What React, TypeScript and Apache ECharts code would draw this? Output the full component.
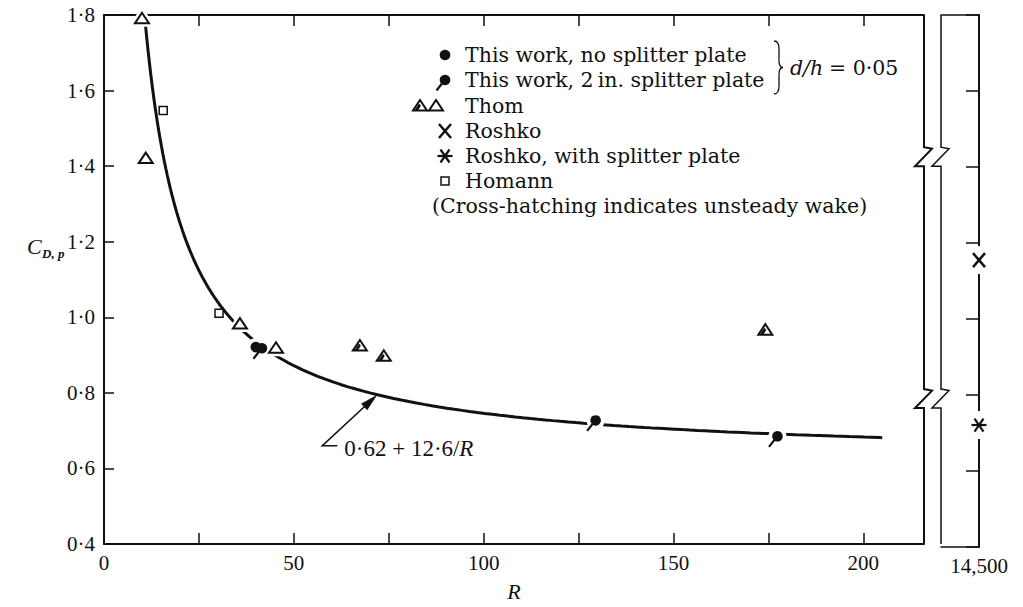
import React, { useEffect, useRef } from "react";
import * as echarts from "echarts";

const SERIF = "Liberation Serif";
const WIDE_SERIF = "DejaVu Serif";
const INK = "#111";

// Axis ranges and ticks
const R_MIN = 0;
const R_MAX = 216;
const R_TICK = 25;
const R_LABEL_STEP = 50;
const CD_MIN = 0.4;
const CD_MAX = 1.8;
const CD_TICK = 0.2;

// Measured points [R, C_D,p]
const noSplitterPlate = [[40, 0.921]];
const splitterPlate2in = [[41.6, 0.918], [129.5, 0.727], [177.4, 0.685]];
const thomSteady = [[10, 1.79], [11, 1.42], [35.8, 0.982], [45.3, 0.918]];
const thomUnsteady = [[67.4, 0.924], [73.7, 0.897], [174.2, 0.966]];
const homann = [[15.6, 1.547], [30.3, 1.011]];

// High Reynolds number panel
const HIGH_R_MIN = 14400;
const HIGH_R = 14500;
const roshko = [[14500, 1.155]];
const roshkoSplitter = [[14500, 0.721]];

// Fitted curve C = 0.62 + 12.6 / R
const FIT_A = 0.62;
const FIT_B = 12.6;
const FIT_R_START = 10.7;
const FIT_R_END = 205;
const FIT_ARROW_R = 72;

// Axis breaks on the panel edges
const BREAK_HIGH = 1.45;
const BREAK_LOW = 0.81;

const legendRows = [
  "This work, no splitter plate",
  "This work, 2\u2009in. splitter plate",
  "Thom",
  "Roshko",
  "Roshko, with splitter plate",
  "Homann",
  "(Cross-hatching indicates unsteady wake)",
];

type Kind = "dot" | "pin" | "tri" | "triHatched" | "square" | "cross" | "star";

function markerShapes(kind: Kind, x: number, y: number, halo: boolean): any[] {
  const out: any[] = [];
  const hz = 1;
  const mz = 10;
  const line = (x1: number, y1: number, x2: number, y2: number, w: number) => ({
    type: "line",
    z2: mz,
    shape: { x1, y1, x2, y2 },
    style: { stroke: INK, lineWidth: w },
  });
  const triPts = [
    [x, y - 6],
    [x - 7, y + 4.5],
    [x + 7, y + 4.5],
  ];
  switch (kind) {
    case "dot":
      if (halo) out.push({ type: "circle", z2: hz, shape: { cx: x, cy: y, r: 6 }, style: { fill: "#fff", stroke: "#fff", lineWidth: 6 } });
      out.push({ type: "circle", z2: mz, shape: { cx: x, cy: y, r: 5.3 }, style: { fill: INK } });
      break;
    case "pin":
      if (halo) out.push({ type: "circle", z2: hz, shape: { cx: x, cy: y, r: 6 }, style: { fill: "#fff", stroke: "#fff", lineWidth: 6 } });
      out.push({ type: "circle", z2: mz, shape: { cx: x, cy: y, r: 5.3 }, style: { fill: INK } });
      out.push(line(x - 3, y + 3.5, x - 8.5, y + 10.5, 2.2));
      break;
    case "tri":
    case "triHatched":
      if (halo) out.push({ type: "polygon", z2: hz, shape: { points: triPts }, style: { fill: "#fff", stroke: "#fff", lineWidth: 7 } });
      out.push({ type: "polygon", z2: mz, shape: { points: triPts }, style: { fill: "#fff", stroke: INK, lineWidth: 2 } });
      if (kind === "triHatched") {
        out.push({
          type: "polygon",
          z2: mz + 1,
          shape: { points: [[x - 5.5, y + 4.5], [x - 1, y - 2.5], [x + 1, y - 0.5], [x - 2, y + 4.5]] },
          style: { fill: INK },
        });
      }
      break;
    case "square":
      out.push({ type: "rect", z2: mz, shape: { x: x - 4, y: y - 4, width: 8, height: 8 }, style: { fill: "#fff", stroke: INK, lineWidth: 1.5 } });
      break;
    case "cross":
      if (halo) out.push({ type: "rect", z2: hz, shape: { x: x - 4, y: y - 14, width: 8, height: 28 }, style: { fill: "#fff" } });
      out.push(line(x - 6, y - 7, x + 6, y + 7, 2.5));
      out.push(line(x - 6, y + 7, x + 6, y - 7, 2.5));
      break;
    case "star":
      if (halo) out.push({ type: "rect", z2: hz, shape: { x: x - 4, y: y - 14, width: 8, height: 28 }, style: { fill: "#fff" } });
      out.push(line(x - 7.5, y, x + 7.5, y, 2.2));
      out.push(line(x - 4.5, y - 6.5, x + 4.5, y + 6.5, 2.2));
      out.push(line(x - 4.5, y + 6.5, x + 4.5, y - 6.5, 2.2));
      break;
  }
  return out;
}

function markerSeries(kind: Kind, data: number[][], panel: number) {
  return {
    type: "custom",
    coordinateSystem: "cartesian2d",
    xAxisIndex: panel === 0 ? 0 : 2,
    yAxisIndex: panel,
    z: 3,
    silent: true,
    data,
    renderItem: (_params: any, api: any) => {
      const [x, y] = api.coord([api.value(0), api.value(1)]);
      return { type: "group", children: markerShapes(kind, x, y, true) };
    },
  };
}

function fitCurve(): number[][] {
  const pts: number[][] = [];
  let r = FIT_R_START;
  while (r < FIT_R_END) {
    pts.push([r, FIT_A + FIT_B / r]);
    r += r < 40 ? 0.4 : 2;
  }
  pts.push([FIT_R_END, FIT_A + FIT_B / FIT_R_END]);
  return pts;
}

const fmtCd = (v: number) => v.toFixed(1).replace(".", "\u00b7");
const labelFont = { fontFamily: SERIF, fontSize: 21, color: INK };

function buildOption(): any {
  const mainX = {
    type: "value",
    min: R_MIN,
    max: R_MAX,
    interval: R_TICK,
    splitLine: { show: false },
    axisLine: { lineStyle: { color: INK, width: 2 } },
    axisTick: { inside: true, length: 11, lineStyle: { color: INK, width: 1.5 } },
  };
  const cdY = {
    type: "value",
    min: CD_MIN,
    max: CD_MAX,
    interval: CD_TICK,
    splitLine: { show: false },
    axisLine: { show: true, lineStyle: { color: INK, width: 2 } },
  };
  return {
    animation: false,
    backgroundColor: "#fff",
    textStyle: { fontFamily: SERIF },
    grid: [
      { left: 104, top: 15, width: 820, height: 532 },
      { left: 941, top: 15, width: 38, height: 532 },
    ],
    xAxis: [
      {
        ...mainX,
        gridIndex: 0,
        position: "bottom",
        axisLabel: {
          ...labelFont,
          margin: 8,
          formatter: (v: number) => (v % R_LABEL_STEP === 0 ? String(v) : ""),
        },
        name: "R",
        nameLocation: "middle",
        nameGap: 36,
        nameTextStyle: { fontFamily: SERIF, fontSize: 22, fontStyle: "italic", color: INK },
      },
      { ...mainX, gridIndex: 0, position: "top", axisLabel: { show: false } },
      {
        type: "value",
        gridIndex: 1,
        position: "bottom",
        min: HIGH_R_MIN,
        max: HIGH_R,
        interval: HIGH_R - HIGH_R_MIN,
        splitLine: { show: false },
        axisLine: { lineStyle: { color: INK, width: 1.5 } },
        axisTick: { show: false },
        axisLabel: {
          ...labelFont,
          margin: 8,
          formatter: (v: number) => (v === HIGH_R ? "14,500" : ""),
        },
      },
      {
        type: "value",
        gridIndex: 1,
        position: "top",
        min: HIGH_R_MIN,
        max: HIGH_R,
        splitLine: { show: false },
        axisLine: { lineStyle: { color: INK, width: 1.5 } },
        axisTick: { show: false },
        axisLabel: { show: false },
      },
    ],
    yAxis: [
      {
        ...cdY,
        gridIndex: 0,
        position: "left",
        axisTick: { inside: true, length: 10, lineStyle: { color: INK, width: 1.5 } },
        axisLabel: { ...labelFont, margin: 9, formatter: fmtCd },
      },
      {
        ...cdY,
        gridIndex: 1,
        position: "right",
        axisTick: { inside: true, length: 13, lineStyle: { color: INK, width: 1.5 } },
        axisLabel: { show: false },
      },
    ],
    series: [
      {
        type: "line",
        xAxisIndex: 0,
        yAxisIndex: 0,
        data: fitCurve(),
        showSymbol: false,
        smooth: false,
        silent: true,
        z: 2,
        lineStyle: { color: INK, width: 3 },
      },
      markerSeries("square", homann, 0),
      markerSeries("tri", thomSteady, 0),
      markerSeries("triHatched", thomUnsteady, 0),
      markerSeries("dot", noSplitterPlate, 0),
      markerSeries("pin", splitterPlate2in, 0),
      markerSeries("cross", roshko, 1),
      markerSeries("star", roshkoSplitter, 1),
    ],
  };
}

function zigzagEdge(x: number, yTop: number, yBot: number, breaks: number[], w: number) {
  const pts: number[][] = [[x, yTop]];
  for (const b of breaks) {
    pts.push([x, b], [x + 8, b + 1.5], [x - 9, b + 19], [x, b + 19]);
  }
  pts.push([x, yBot]);
  return { type: "polyline", shape: { points: pts }, style: { stroke: INK, lineWidth: w, fill: null }, z: 20 };
}

function plainText(x: number, y: number, text: string, family: string, size: number, italic = false, extra: any = {}) {
  return {
    type: "text",
    x,
    y,
    style: {
      text,
      fontFamily: family,
      fontSize: size,
      fontStyle: italic ? "italic" : "normal",
      fill: INK,
      verticalAlign: "middle",
      align: "left",
      ...extra,
    },
  };
}

function buildGraphics(chart: any): any[] {
  const g: any[] = [];
  const toPx = (grid: number, v: number[]) => chart.convertToPixel({ gridIndex: grid }, v) as number[];

  // Panel edges carrying the axis breaks
  const [mainRight, yTop] = toPx(0, [R_MAX, CD_MAX]);
  const [, yBot] = toPx(0, [R_MAX, CD_MIN]);
  const [, bHigh] = toPx(0, [R_MAX, BREAK_HIGH]);
  const [, bLow] = toPx(0, [R_MAX, BREAK_LOW]);
  const [rightLeft] = toPx(1, [HIGH_R_MIN, CD_MAX]);
  g.push(zigzagEdge(mainRight, yTop, yBot, [bHigh, bLow], 2));
  g.push(zigzagEdge(rightLeft, yTop, yBot, [bHigh, bLow], 1.5));

  // Legend
  const rowY = [55, 80, 106, 131, 156, 181, 206];
  const mx = 445;
  const tx = 465;
  const legendKinds: Kind[][] = [["dot"], ["pin"], ["triHatched", "tri"], ["cross"], ["star"], ["square"]];
  legendKinds.forEach((kinds, i) => {
    if (kinds.length === 2) {
      g.push(...markerShapes(kinds[0], 420, rowY[i], false));
      g.push(...markerShapes(kinds[1], 436, rowY[i], false));
    } else {
      g.push(...markerShapes(kinds[0], mx, rowY[i], false));
    }
  });
  legendRows.forEach((t, i) => {
    g.push(plainText(i === 6 ? 432 : tx, rowY[i], t, WIDE_SERIF, 20.5));
  });

  // Brace grouping the two rows of this work
  const bx = 774;
  const bT = rowY[0] - 14;
  const bB = rowY[1] + 14;
  const bM = (bT + bB) / 2;
  const bs = { stroke: INK, lineWidth: 1.3, fill: null };
  g.push({ type: "bezierCurve", shape: { x1: bx, y1: bT, cpx1: bx + 4, cpy1: bT, cpx2: bx + 5, cpy2: bT + 3, x2: bx + 5, y2: bT + 8 }, style: bs });
  g.push({ type: "line", shape: { x1: bx + 5, y1: bT + 8, x2: bx + 5, y2: bM - 7 }, style: bs });
  g.push({ type: "bezierCurve", shape: { x1: bx + 5, y1: bM - 7, cpx1: bx + 5, cpy1: bM - 2, cpx2: bx + 6, cpy2: bM, x2: bx + 9, y2: bM }, style: bs });
  g.push({ type: "bezierCurve", shape: { x1: bx + 9, y1: bM, cpx1: bx + 6, cpy1: bM, cpx2: bx + 5, cpy2: bM + 2, x2: bx + 5, y2: bM + 7 }, style: bs });
  g.push({ type: "line", shape: { x1: bx + 5, y1: bM + 7, x2: bx + 5, y2: bB - 8 }, style: bs });
  g.push({ type: "bezierCurve", shape: { x1: bx + 5, y1: bB - 8, cpx1: bx + 5, cpy1: bB - 3, cpx2: bx + 4, cpy2: bB, x2: bx, y2: bB }, style: bs });
  g.push(plainText(790, bM, "d/h", WIDE_SERIF, 20.5, true));
  g.push(plainText(829, bM, "= 0\u00b705", WIDE_SERIF, 20.5));

  // Vertical axis title
  g.push(plainText(27, 246, "C", SERIF, 22, true));
  g.push(plainText(42, 253, "D, p", SERIF, 13, true, { fontWeight: "bold" }));

  // Arrow pointing at the fitted curve, with its formula
  const [ax, ay] = toPx(0, [FIT_ARROW_R, FIT_A + FIT_B / FIT_ARROW_R]);
  const cx = ax - 55;
  const cy = ay + 51;
  g.push({ type: "polyline", shape: { points: [[cx + 15, cy], [cx, cy], [ax - 6, ay + 5.5]] }, style: { stroke: INK, lineWidth: 1.6, fill: null }, z: 20 });
  const dx = ax - cx;
  const dy = ay - cy;
  const len = Math.hypot(dx, dy);
  const ux = dx / len;
  const uy = dy / len;
  const hl = 18;
  const hw = 4.5;
  const bxA = ax - ux * hl;
  const byA = ay - uy * hl;
  g.push({
    type: "polygon",
    z: 20,
    shape: { points: [[ax, ay], [bxA - uy * hw, byA + ux * hw], [bxA + uy * hw, byA - ux * hw]] },
    style: { fill: INK },
  });
  g.push(plainText(cx + 22, cy + 3, "0\u00b762 + 12\u00b76/", SERIF, 23));
  g.push(plainText(cx + 137, cy + 3, "R", SERIF, 23, true));
  return g;
}

export default function App() {
  const ref = useRef<HTMLDivElement>(null);
  useEffect(() => {
    const el = ref.current;
    if (!el) return;
    const chart = echarts.init(el, null, { renderer: "svg" });
    chart.setOption(buildOption());
    chart.setOption({ graphic: { elements: buildGraphics(chart) } });
    return () => chart.dispose();
  }, []);
  return (
    <div
      ref={ref}
      style={{ position: "fixed", left: 0, top: 0, width: 1023, height: 607, background: "#fff" }}
    />
  );
}
